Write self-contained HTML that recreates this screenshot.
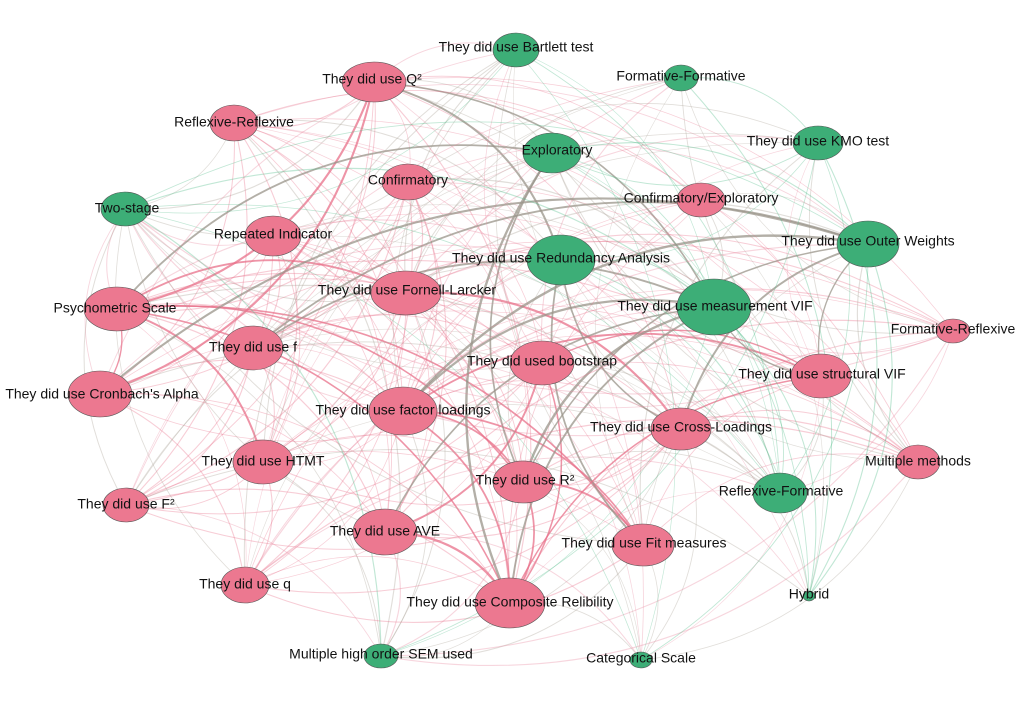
<!DOCTYPE html>
<html><head><meta charset="utf-8"><style>
html,body{margin:0;padding:0;background:#fff;width:1024px;height:720px;overflow:hidden}
svg{display:block}
text{font-family:"Liberation Sans",sans-serif;font-size:14px;fill:#111;text-anchor:middle;dominant-baseline:middle}
.p{fill:#ec7890;stroke:#555;stroke-width:0.6}
.g{fill:#3dae77;stroke:#555;stroke-width:0.6}
</style></head><body>
<svg id="s" width="1024" height="720" viewBox="0 0 1024 720">
<g id="edges"></g>
<g id="nodes">
<ellipse class="p" cx="374" cy="82" rx="32" ry="20"/>
<ellipse class="p" cx="234" cy="123" rx="24" ry="18"/>
<ellipse class="p" cx="408" cy="182" rx="26" ry="18"/>
<ellipse class="p" cx="273" cy="236" rx="28" ry="20"/>
<ellipse class="p" cx="117" cy="309" rx="33" ry="22"/>
<ellipse class="p" cx="406" cy="293" rx="35" ry="22"/>
<ellipse class="p" cx="253" cy="348" rx="30" ry="22"/>
<ellipse class="p" cx="542" cy="363" rx="32" ry="22"/>
<ellipse class="p" cx="100" cy="394" rx="32" ry="23"/>
<ellipse class="p" cx="403" cy="411" rx="34" ry="24"/>
<ellipse class="p" cx="681" cy="429" rx="30" ry="21"/>
<ellipse class="p" cx="263" cy="462" rx="30" ry="22"/>
<ellipse class="p" cx="523" cy="482" rx="30" ry="21"/>
<ellipse class="p" cx="126" cy="505" rx="23" ry="17"/>
<ellipse class="p" cx="385" cy="532" rx="32" ry="23"/>
<ellipse class="p" cx="643" cy="545" rx="31" ry="21"/>
<ellipse class="p" cx="245" cy="585" rx="24" ry="18"/>
<ellipse class="p" cx="510" cy="603" rx="35" ry="25"/>
<ellipse class="p" cx="701" cy="200" rx="24" ry="17"/>
<ellipse class="p" cx="821" cy="376" rx="30" ry="22"/>
<ellipse class="p" cx="953" cy="331" rx="17" ry="12"/>
<ellipse class="p" cx="918" cy="462" rx="22" ry="17"/>
<ellipse class="g" cx="516" cy="50" rx="23" ry="17"/>
<ellipse class="g" cx="681" cy="78" rx="17" ry="13"/>
<ellipse class="g" cx="818" cy="143" rx="25" ry="17"/>
<ellipse class="g" cx="552" cy="153" rx="29" ry="20"/>
<ellipse class="g" cx="125" cy="209" rx="24" ry="17"/>
<ellipse class="g" cx="561" cy="260" rx="34" ry="25"/>
<ellipse class="g" cx="868" cy="244" rx="31" ry="23"/>
<ellipse class="g" cx="714" cy="307" rx="37" ry="28"/>
<ellipse class="g" cx="780" cy="493" rx="27" ry="20"/>
<ellipse class="g" cx="809" cy="596" rx="6" ry="5"/>
<ellipse class="g" cx="381" cy="656" rx="17" ry="12"/>
<ellipse class="g" cx="641" cy="660" rx="11" ry="8"/>
</g>
<g id="labels">
<text x="372" y="80">They did use Q²</text>
<text x="234" y="123">Reflexive-Reflexive</text>
<text x="408" y="181">Confirmatory</text>
<text x="273" y="235">Repeated Indicator</text>
<text x="115" y="309">Psychometric Scale</text>
<text x="407" y="291">They did use Fornell-Larcker</text>
<text x="253" y="348">They did use f</text>
<text x="542" y="362">They did used bootstrap</text>
<text x="102" y="395">They did use Cronbach's Alpha</text>
<text x="403" y="411">They did use factor loadings</text>
<text x="681" y="428">They did use Cross-Loadings</text>
<text x="263" y="462">They did use HTMT</text>
<text x="525" y="481">They did use R²</text>
<text x="126" y="505">They did use F²</text>
<text x="385" y="532">They did use AVE</text>
<text x="644" y="544">They did use Fit measures</text>
<text x="245" y="585">They did use q</text>
<text x="510" y="603">They did use Composite Relibility</text>
<text x="701" y="199">Confirmatory/Exploratory</text>
<text x="822" y="375">They did use structural VIF</text>
<text x="953" y="330">Formative-Reflexive</text>
<text x="918" y="462">Multiple methods</text>
<text x="516" y="48">They did use Bartlett test</text>
<text x="681" y="77">Formative-Formative</text>
<text x="818" y="142">They did use KMO test</text>
<text x="557" y="151">Exploratory</text>
<text x="127" y="209">Two-stage</text>
<text x="561" y="259">They did use Redundancy Analysis</text>
<text x="868" y="242">They did use Outer Weights</text>
<text x="715" y="307">They did use measurement VIF</text>
<text x="781" y="492">Reflexive-Formative</text>
<text x="809" y="595">Hybrid</text>
<text x="381" y="655">Multiple high order SEM used</text>
<text x="641" y="659">Categorical Scale</text>
</g>
</svg>
<script>
(function(){
var es=document.querySelectorAll('#nodes ellipse');var n=[];
es.forEach(function(e){n.push({x:+e.getAttribute('cx'),y:+e.getAttribute('cy'),r:+e.getAttribute('rx'),g:e.classList.contains('g')});});
var seed=7;function rnd(){seed=(seed*16807)%2147483647;return seed/2147483647;}
var out='';
for(var i=0;i<n.length;i++)for(var j=i+1;j<n.length;j++){
 var a=n[i],b=n[j];var w=(a.r+b.r)/70;
 var prob=Math.min(0.95,0.25+w*0.45);
 if(rnd()>prob)continue;
 var dx=b.x-a.x,dy=b.y-a.y;var k=0.28;
 var cx=(a.x+b.x)/2+dy*k,cy=(a.y+b.y)/2-dx*k;
 var col,op,sw;
 if(!a.g&&!b.g){col='#e8708a';}else if(a.g&&b.g){col='#4dbb88';}else{col=rnd()<0.5?'#a8a096':'#e88aa0';}
 var strong=(a.r>28&&b.r>28&&rnd()<0.45);
 if(strong){op=0.75;sw=1.3+rnd()*1.1;if(a.g!=b.g)col='#9a948a';}else{op=0.35;sw=0.6+rnd()*0.6;}
 out+='<path d="M'+a.x+' '+a.y+'Q'+cx.toFixed(1)+' '+cy.toFixed(1)+' '+b.x+' '+b.y+'" fill="none" stroke="'+col+'" stroke-opacity="'+op+'" stroke-width="'+sw.toFixed(2)+'"/>';
}
document.getElementById('edges').innerHTML=out;
})();
</script>
</body></html>
